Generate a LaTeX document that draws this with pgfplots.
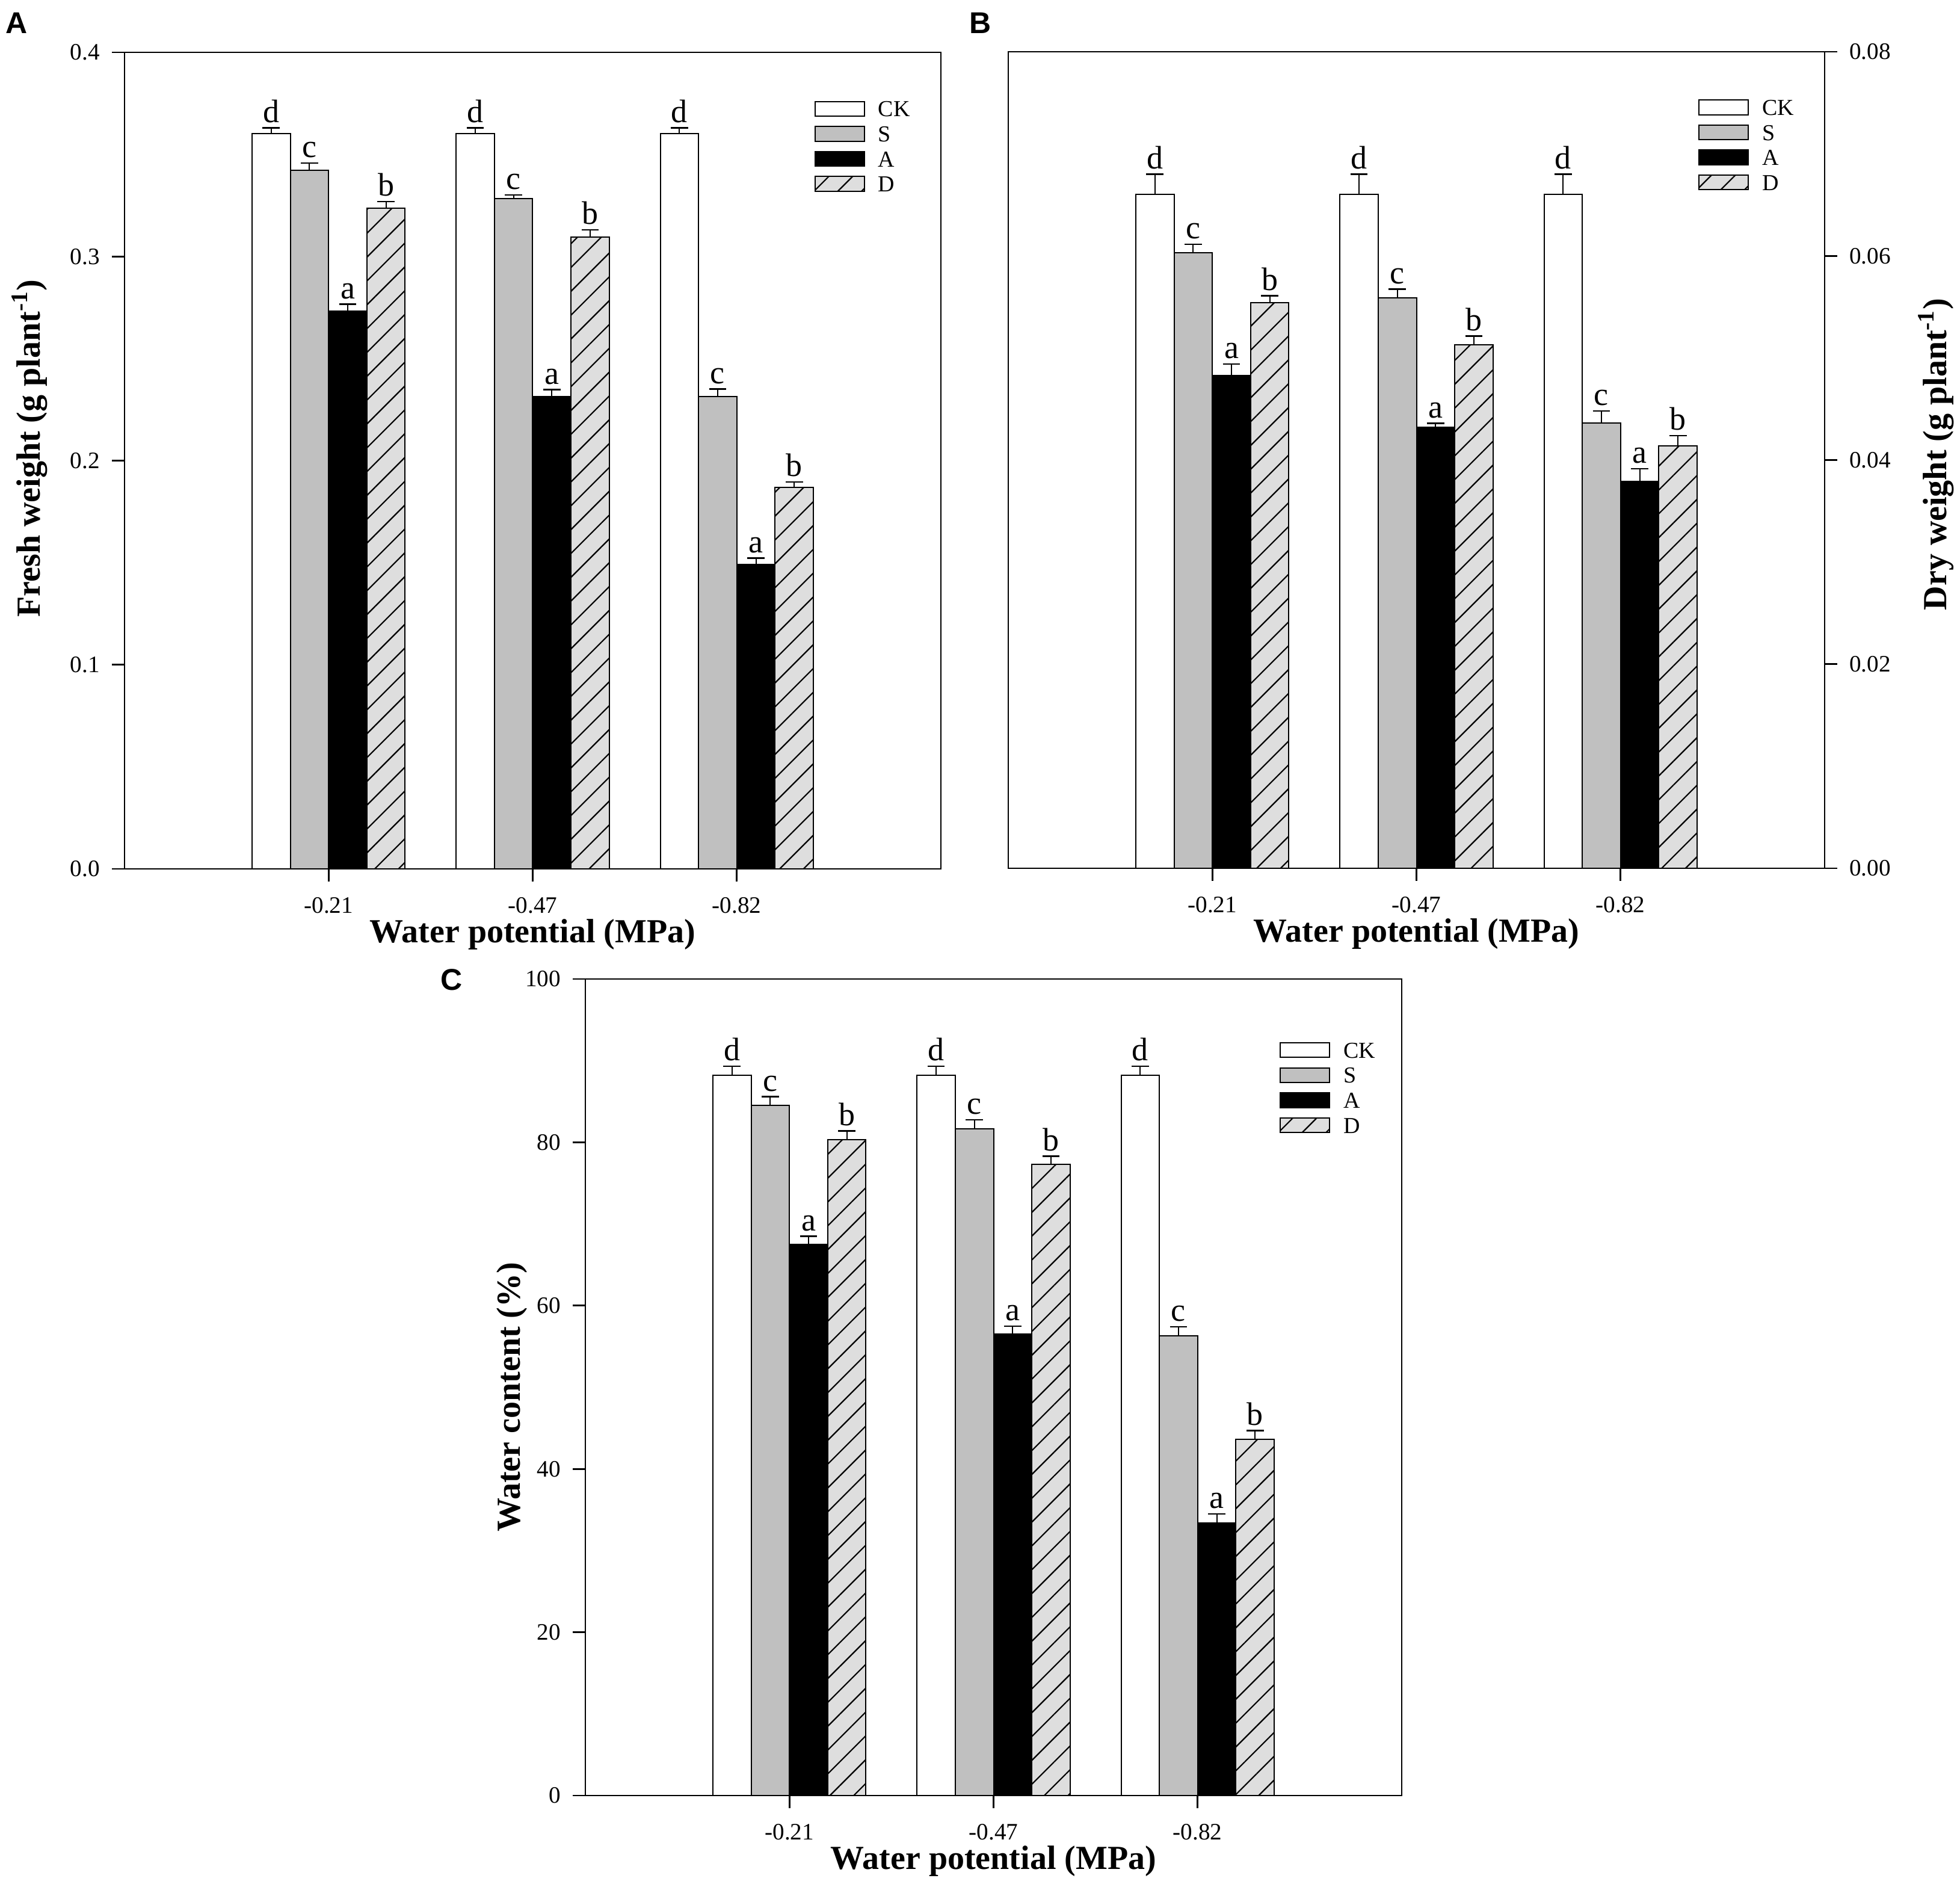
\documentclass[border=0pt]{standalone}
\usepackage{pgfplots}
\pgfplotsset{compat=1.18}
\usepackage{pgfplotstable}
\usetikzlibrary{patterns.meta}
\usepackage{fontspec}
\setmainfont{Liberation Serif}
\newfontfamily\arialfont{Liberation Sans}
\definecolor{sgray}{RGB}{192,192,192}
\definecolor{dgray}{RGB}{222,222,222}

\newcommand\tickfont{\fontsize{9.8}{11}\selectfont}
\newcommand\labfont{\fontsize{14}{16}\selectfont\bfseries}
\newcommand\letfont{\fontsize{13.5}{15}\selectfont}
\newcommand\legfont{\fontsize{9.5}{11}\selectfont}
\newcommand\panfont{\arialfont\bfseries\fontsize{12.5}{14}\selectfont}

% Fresh weight (g plant-1)
\pgfplotstableread{
g ck cke s se a ae d de
1 0.3603 0.0027 0.3422 0.0036 0.2733 0.0033 0.3236 0.0033
2 0.3603 0.0027 0.3284 0.0018 0.2315 0.0033 0.3094 0.0036
3 0.3603 0.0027 0.2315 0.0036 0.1493 0.0030 0.1869 0.0027
}\tA
% Dry weight (g plant-1)
\pgfplotstableread{
g ck cke s se a ae d de
1 0.0660 0.0020 0.0603 0.00084 0.0483 0.0011 0.0554 0.0007
2 0.0660 0.0020 0.0559 0.00084 0.0432 0.0004 0.0513 0.00084
3 0.0660 0.0020 0.0436 0.0012 0.0379 0.00126 0.0414 0.0010
}\tB
% Water content (%)
\pgfplotstableread{
g ck cke s se a ae d de
1 88.2 1.1 84.5 1.1 67.5 1.0 80.3 1.1
2 88.2 1.1 81.65 1.1 56.5 1.0 77.3 1.0
3 88.2 1.1 56.3 1.1 33.4 1.1 43.6 1.1
}\tC

\pgfplotsset{
 errb/.style={/pgfplots/error bars/y dir=plus, /pgfplots/error bars/y explicit,
   /pgfplots/error bars/error mark=|,
   /pgfplots/error bars/error bar style={line width=0.5pt,black},
   /pgfplots/error bars/error mark options={line width=0.6pt, mark size=3.6pt, black}},
 basebar/.style={ybar, bar width=0.1875, bar shift=0pt, draw=black, line width=0.5pt, errb},
 ckbar/.style={basebar, fill=white},
 sbar/.style={basebar, fill=sgray},
 abar/.style={basebar, fill=black},
 dbar/.style={basebar, fill=dgray, postaction={pattern={Lines[angle=45,distance=7pt,line width=0.55pt]}}},
 lett/.style={draw=none, mark=none, forget plot, nodes near coords={#1},
   every node near coord/.append style={anchor=south, inner sep=0pt, yshift=2pt, font=\letfont, text=black}},
 panel/.style={
  scale only axis, width=339.25pt, height=339.25pt,
  xmin=0, xmax=4, ymin=0,
  xtick={1,2,3}, xticklabels={-0.21,-0.47,-0.82},
  scaled y ticks=false,
  tick align=outside, major tick length=5.25pt,
  xtick pos=left,
  tick style={black, line width=0.7pt},
  axis line style={line width=0.7pt},
  ticklabel style={font=\tickfont},
  xticklabel style={yshift=-3pt},
  every axis x label/.style={at={(rel axis cs:0.5,-0.0803)}, anchor=center, font=\labfont},
  legend image code/.code={\draw[##1] (0pt,-3.05pt) rectangle (20.5pt,3.05pt);},
  legend cell align=left,
  legend style={draw=none, fill=none, inner sep=0pt, anchor=north west, font=\legfont,
    row sep=1.9pt, nodes={inner sep=1pt, text height=6.5pt, text depth=0pt},
    /tikz/every odd column/.append style={column sep=4.5pt}},
 },
}

\begin{document}
\begin{tikzpicture}
\useasboundingbox (0,0) rectangle (814.5pt,-784pt);
\node[anchor=north west, inner sep=0pt, font=\panfont] at (2.25pt,-5pt) {A};
\node[anchor=north west, inner sep=0pt, font=\panfont] at (402.75pt,-5pt) {B};
\node[anchor=north west, inner sep=0pt, font=\panfont] at (183pt,-402.5pt) {C};

% ---------- A ----------
\begin{axis}[panel, at={(51.75pt,-361pt)}, anchor=south west,
  ymax=0.4, ytick={0,0.1,0.2,0.3,0.4}, yticklabels={0.0,0.1,0.2,0.3,0.4},
  ytick pos=left, yticklabel style={xshift=-1.5pt},
  xlabel={Water potential (MPa)},
  ylabel={Fresh weight (g plant\textsuperscript{-1})},
  every axis y label/.style={at={(rel axis cs:-0.1164,0.515)}, rotate=90, anchor=center, font=\labfont},
  legend style={at={(rel axis cs:0.8445,0.944)}}]
\addplot[ckbar] table[x expr=\thisrow{g}-0.28125, y=ck, y error=cke]{\tA};
\addplot[sbar] table[x expr=\thisrow{g}-0.09375, y=s, y error=se]{\tA};
\addplot[abar] table[x expr=\thisrow{g}+0.09375, y=a, y error=ae]{\tA};
\addplot[dbar] table[x expr=\thisrow{g}+0.28125, y=d, y error=de]{\tA};
\addplot[lett={d}] table[x expr=\thisrow{g}-0.28125, y expr=\thisrow{ck}+\thisrow{cke}]{\tA};
\addplot[lett={c}] table[x expr=\thisrow{g}-0.09375, y expr=\thisrow{s}+\thisrow{se}]{\tA};
\addplot[lett={a}] table[x expr=\thisrow{g}+0.09375, y expr=\thisrow{a}+\thisrow{ae}]{\tA};
\addplot[lett={b}] table[x expr=\thisrow{g}+0.28125, y expr=\thisrow{d}+\thisrow{de}]{\tA};
\legend{CK,S,A,D}
\end{axis}

% ---------- B ----------
\begin{axis}[panel, at={(419pt,-360.75pt)}, anchor=south west,
  ymax=0.08, ytick={0,0.02,0.04,0.06,0.08}, yticklabels={0.00,0.02,0.04,0.06,0.08},
  ytick pos=right, yticklabel pos=right, yticklabel style={xshift=1.5pt},
  xlabel={Water potential (MPa)},
  ylabel={Dry weight (g plant\textsuperscript{-1})},
  every axis y label/.style={at={(rel axis cs:1.1363,0.507)}, rotate=90, anchor=center, font=\labfont},
  legend style={at={(rel axis cs:0.845,0.945)}}]
\addplot[ckbar] table[x expr=\thisrow{g}-0.28125, y=ck, y error=cke]{\tB};
\addplot[sbar] table[x expr=\thisrow{g}-0.09375, y=s, y error=se]{\tB};
\addplot[abar] table[x expr=\thisrow{g}+0.09375, y=a, y error=ae]{\tB};
\addplot[dbar] table[x expr=\thisrow{g}+0.28125, y=d, y error=de]{\tB};
\addplot[lett={d}] table[x expr=\thisrow{g}-0.28125, y expr=\thisrow{ck}+\thisrow{cke}]{\tB};
\addplot[lett={c}] table[x expr=\thisrow{g}-0.09375, y expr=\thisrow{s}+\thisrow{se}]{\tB};
\addplot[lett={a}] table[x expr=\thisrow{g}+0.09375, y expr=\thisrow{a}+\thisrow{ae}]{\tB};
\addplot[lett={b}] table[x expr=\thisrow{g}+0.28125, y expr=\thisrow{d}+\thisrow{de}]{\tB};
\legend{CK,S,A,D}
\end{axis}

% ---------- C ----------
\begin{axis}[panel, at={(243.25pt,-746pt)}, anchor=south west,
  ymax=100, ytick={0,20,40,60,80,100}, yticklabels={0,20,40,60,80,100},
  ytick pos=left, yticklabel style={xshift=-1.5pt},
  xlabel={Water potential (MPa)},
  ylabel={Water content (\%)},
  every axis y label/.style={at={(rel axis cs:-0.09,0.488)}, rotate=90, anchor=center, font=\labfont},
  legend style={at={(rel axis cs:0.85,0.926)}}]
\addplot[ckbar] table[x expr=\thisrow{g}-0.28125, y=ck, y error=cke]{\tC};
\addplot[sbar] table[x expr=\thisrow{g}-0.09375, y=s, y error=se]{\tC};
\addplot[abar] table[x expr=\thisrow{g}+0.09375, y=a, y error=ae]{\tC};
\addplot[dbar] table[x expr=\thisrow{g}+0.28125, y=d, y error=de]{\tC};
\addplot[lett={d}] table[x expr=\thisrow{g}-0.28125, y expr=\thisrow{ck}+\thisrow{cke}]{\tC};
\addplot[lett={c}] table[x expr=\thisrow{g}-0.09375, y expr=\thisrow{s}+\thisrow{se}]{\tC};
\addplot[lett={a}] table[x expr=\thisrow{g}+0.09375, y expr=\thisrow{a}+\thisrow{ae}]{\tC};
\addplot[lett={b}] table[x expr=\thisrow{g}+0.28125, y expr=\thisrow{d}+\thisrow{de}]{\tC};
\legend{CK,S,A,D}
\end{axis}
\end{tikzpicture}
\end{document}
